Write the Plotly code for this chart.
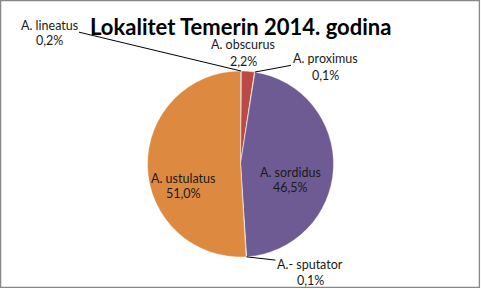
import plotly.graph_objects as go
import math

labels = ["A. lineatus", "A. obscurus", "A. proximus", "A. sordidus", "A.- sputator", "A. ustulatus"]
values = [0.2, 2.2, 0.1, 46.5, 0.1, 51.0]
colors = ["#3F6A9A", "#B94A46", "#B7CC8E", "#6F5B94", "#9CCAD8", "#DD8A40"]
title_text = "Lokalitet Temerin 2014. godina"

W, H = 481, 289
cx, cy, R = 240.5, 164.0, 93.0  # pie centre / radius in pixels (from top-left)

fig = go.Figure()
fig.add_trace(go.Pie(
    labels=labels, values=values, sort=False, direction="clockwise", rotation=0,
    marker=dict(colors=colors, line=dict(color="rgba(255,255,255,0.6)", width=0.6)),
    textinfo="none", showlegend=False,
    domain=dict(x=[(cx - R) / W, (cx + R) / W], y=[(H - cy - R) / H, (H - cy + R) / H]),
))

def pct(v):
    return ("%.1f%%" % v).replace(".", ",")

total = sum(values)
cum = 0.0
mids = []
for v in values:
    mids.append((cum + v / 2) / total * 2 * math.pi)
    cum += v

def edge_point(i, r=R):
    a = mids[i]
    return cx + r * math.sin(a), cy - r * math.cos(a)

# label positions (pixel centres): name line, pct line, leader?
label_pos = {
    0: ((49, 25), (49, 41), True),
    1: ((243, 45), (243, 61), False),
    2: ((325, 59), (325, 75), True),
    3: ((290, 172), (290, 187), False),
    4: ((310, 264), (310, 280), True),
    5: ((183, 178), (183, 193), False),
}
font = dict(family="Lato, Carlito, Calibri, sans-serif", size=12.5, color="#1a1a1a")
annotations = []
for i, ((nx, ny), (px, py), leader) in label_pos.items():
    if leader:
        hx, hy = edge_point(i)
        annotations.append(dict(
            x=hx / W, y=1 - hy / H, xref="paper", yref="paper",
            ax=nx - hx, ay=ny - hy, axref="pixel", ayref="pixel",
            text=labels[i], showarrow=True, arrowhead=0, arrowwidth=1,
            arrowcolor="#000000", standoff=0, startstandoff=0, font=font,
            xanchor="center", yanchor="middle",
        ))
    else:
        annotations.append(dict(x=nx / W, y=1 - ny / H, xref="paper", yref="paper",
                                text=labels[i], showarrow=False, font=font,
                                xanchor="center", yanchor="middle"))
    annotations.append(dict(x=px / W, y=1 - py / H, xref="paper", yref="paper",
                            text=pct(values[i]), showarrow=False, font=font,
                            xanchor="center", yanchor="middle"))

annotations.append(dict(x=240 / W, y=1 - 27 / H, xref="paper", yref="paper",
                        text="<b>" + title_text + "</b>", showarrow=False,
                        xanchor="center", yanchor="middle",
                        font=dict(family="Lato, Carlito, Calibri, sans-serif", size=22, color="#000000")))

fig.update_layout(
    width=W, height=H, margin=dict(l=0, r=0, t=0, b=0),
    paper_bgcolor="white", plot_bgcolor="white",
    annotations=annotations,
    shapes=[dict(type="rect", xref="paper", yref="paper",
                 x0=0.6 / W, x1=1 - 1.6 / W, y0=1.6 / H, y1=1 - 0.6 / H,
                 line=dict(color="#878787", width=1.3))],
)
fig.write_html("out.html")
